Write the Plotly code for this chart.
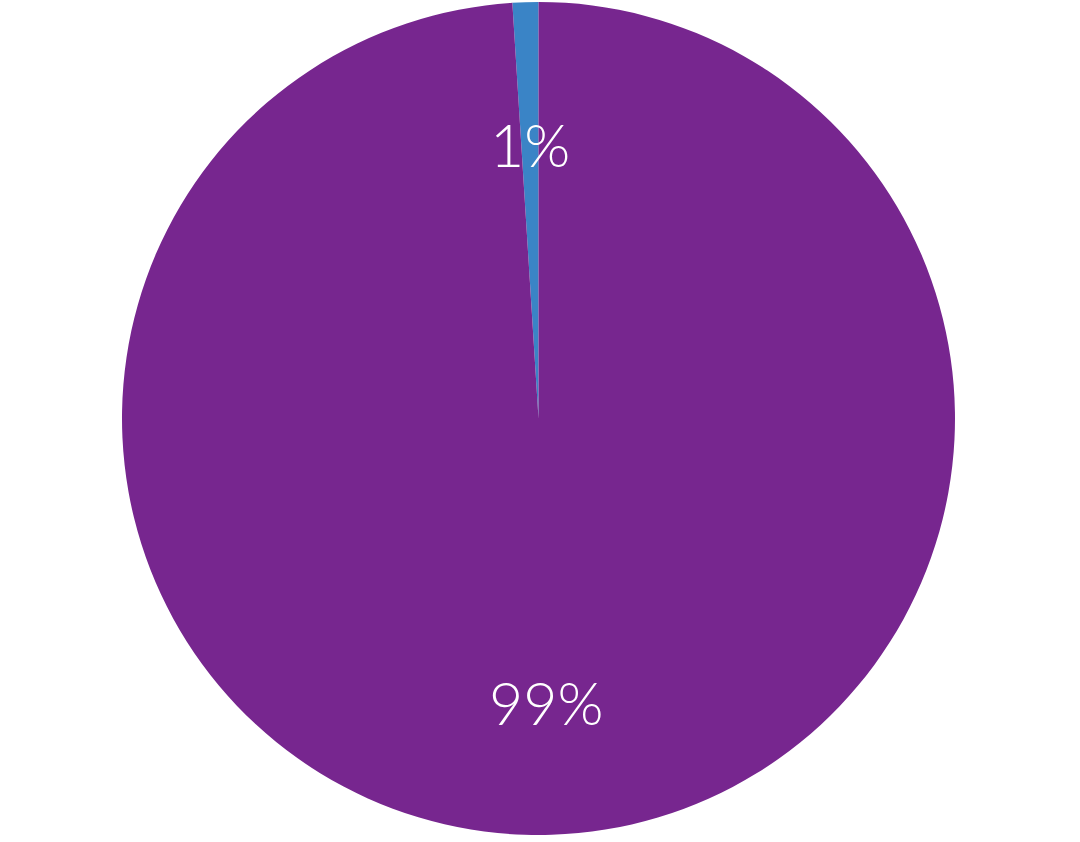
import plotly.graph_objects as go

labels = ["Blue", "Purple"]
values = [1, 99]
percent_text = ["1%", "99%"]
colors = ["#3A84C6", "#77268F"]

W, H = 1080, 842

fig = go.Figure(go.Pie(
    labels=labels,
    values=values,
    sort=False,
    direction="clockwise",
    rotation=-3.6,
    marker=dict(colors=colors, line=dict(width=0)),
    textinfo="none",
    hoverinfo="label+percent",
    showlegend=False,
    domain=dict(x=[122 / W, 955 / W], y=[7 / H, 840 / H]),
))

label_pos = [(530 / W, 1 - 144 / H), (546 / W, 1 - 702 / H)]
for txt, (ax, ay) in zip(percent_text, label_pos):
    fig.add_annotation(
        x=ax, y=ay, xref="paper", yref="paper", text=txt, showarrow=False,
        font=dict(family="Lato, Roboto, sans-serif", size=59, color="white", weight=300),
        xanchor="center", yanchor="middle",
    )

fig.update_layout(
    width=W, height=H,
    margin=dict(l=0, r=0, t=0, b=0),
    paper_bgcolor="white",
    plot_bgcolor="white",
)

fig.write_html("out.html", config={"displayModeBar": False},
               post_script="document.body.style.margin='0';")
